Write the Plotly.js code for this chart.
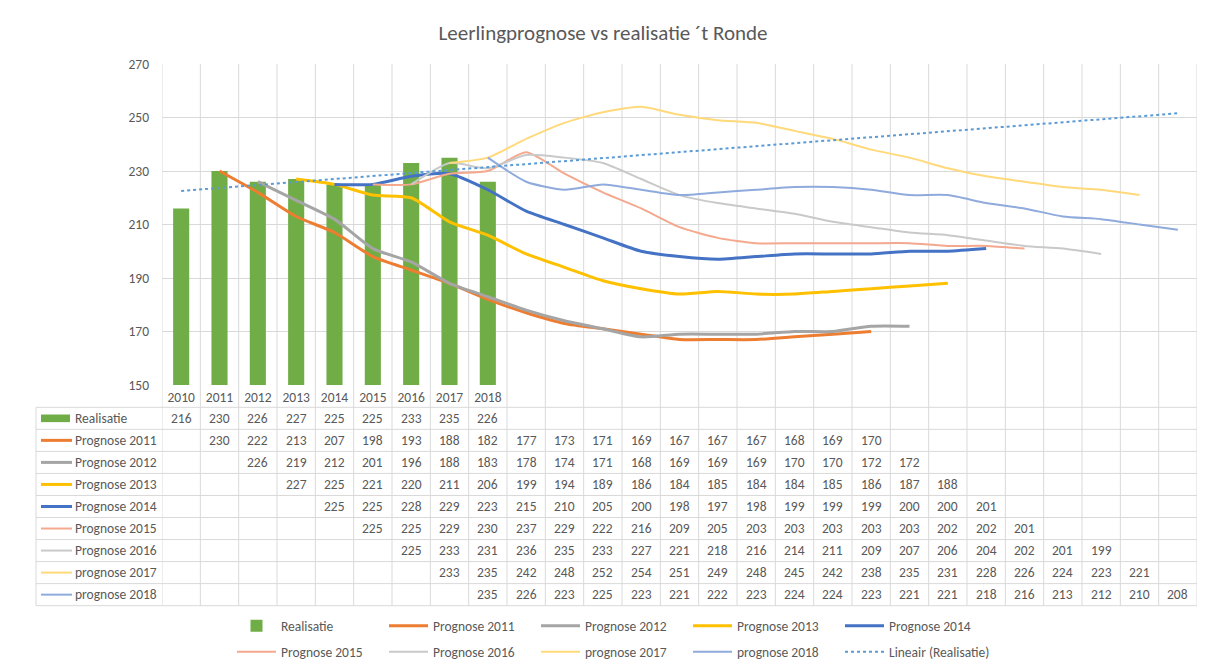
<!DOCTYPE html>
<html><head><meta charset="utf-8">
<script src="https://cdn.plot.ly/plotly-3.0.1.min.js"></script>
<style>html,body{margin:0;padding:0;background:#fff}#chart{width:1206px;height:666px}</style>
</head><body><div id="chart"></div>
<script>
// ---------- data ----------
const N = null;
const years = ['2010','2011','2012','2013','2014','2015','2016','2017','2018'];
const realisatie   = [216,230,226,227,225,225,233,235,226];
const prognose2011 = [N,230,222,213,207,198,193,188,182,177,173,171,169,167,167,167,168,169,170];
const prognose2012 = [N,N,226,219,212,201,196,188,183,178,174,171,168,169,169,169,170,170,172,172];
const prognose2013 = [N,N,N,227,225,221,220,211,206,199,194,189,186,184,185,184,184,185,186,187,188];
const prognose2014 = [N,N,N,N,225,225,228,229,223,215,210,205,200,198,197,198,199,199,199,200,200,201];
const prognose2015 = [N,N,N,N,N,225,225,229,230,237,229,222,216,209,205,203,203,203,203,203,202,202,201];
const prognose2016 = [N,N,N,N,N,N,225,233,231,236,235,233,227,221,218,216,214,211,209,207,206,204,202,201,199];
const prognose2017 = [N,N,N,N,N,N,N,233,235,242,248,252,254,251,249,248,245,242,238,235,231,228,226,224,223,221];
const prognose2018 = [N,N,N,N,N,N,N,N,235,226,223,225,223,221,222,223,224,224,223,221,221,218,216,213,212,210,208];
const barName = 'Realisatie';
const lineNames = ['Prognose 2011','Prognose 2012','Prognose 2013','Prognose 2014','Prognose 2015','Prognose 2016','prognose 2017','prognose 2018'];
const trendName = 'Lineair (Realisatie)';
const lineSeries = [prognose2011,prognose2012,prognose2013,prognose2014,prognose2015,prognose2016,prognose2017,prognose2018];

// ---------- styles ----------
const FONT = 'Carlito, Calibri, Lato, sans-serif';
const TXT = '#595959';
const GRID = '#d9d9d9';
const FS = 13.5;
const barColor = '#70ad47';
const lineColors = ['#ed7d31','#a5a5a5','#ffc000','#4472c4','#f4a88e','#c9c9c9','#ffd97a','#8faadc'];
const lineWidths = [3,3,3,3,2,2,2,2];
const trendColor = '#5b9bd5';

const nCols = Math.max(realisatie.length, ...lineSeries.map(s => s.length));
const idx = n => Array.from({length:n}, (_, i) => i);

// layout geometry (pixels)
const W = 1206, H = 666, mL = 162, mR = 9, mT = 64, mB = 281;
const pw = W - mL - mR, ph = H - mT - mB;
const px2x = px => (px - mL) / pw;           // paper x
const py2y = py => (H - mB - py) / ph;        // paper y
const headerBottom = py2y(407.3);
const rowH = 22.04 / ph;
const nRows = 1 + lineSeries.length;
const tableBottom = headerBottom - nRows * rowH;
const rowCenter = r => headerBottom - (r + 0.5) * rowH;

// ---------- traces ----------
const traces = [];
traces.push({
  type: 'bar', name: barName, x: idx(realisatie.length), y: realisatie,
  marker: {color: barColor}, width: 0.42, legend: 'legend', hoverinfo: 'name+y'
});
lineSeries.forEach((s, i) => {
  traces.push({
    type: 'scatter', mode: 'lines', name: lineNames[i], x: idx(s.length), y: s,
    line: {color: lineColors[i], width: lineWidths[i], shape: 'spline', smoothing: 0.6},
    legend: i < 4 ? 'legend' : 'legend2', connectgaps: false
  });
});
// linear trendline (least squares on Realisatie, as Excel does)
(function(){
  const n = realisatie.length, xs = idx(n);
  const mx = xs.reduce((a,b)=>a+b,0)/n, my = realisatie.reduce((a,b)=>a+b,0)/n;
  let sxy = 0, sxx = 0;
  xs.forEach((x,i) => { sxy += (x-mx)*(realisatie[i]-my); sxx += (x-mx)*(x-mx); });
  const slope = sxy/sxx, icpt = my - slope*mx;
  const tx = idx(nCols);
  traces.push({
    type: 'scatter', mode: 'lines', name: trendName, x: tx, y: tx.map(x => icpt + slope*x),
    line: {color: trendColor, width: 2, dash: 'dot'}, legend: 'legend2'
  });
})();

// ---------- data table (annotations + shapes) ----------
const annotations = [];
const shapes = [];
const tableRows = [{name: barName, values: realisatie, kind: 'bar', color: barColor, width: 0}]
  .concat(lineSeries.map((s, i) => ({name: lineNames[i], values: s, kind: 'line', color: lineColors[i], width: lineWidths[i]})));

tableRows.forEach((row, r) => {
  const yc = rowCenter(r);
  row.values.forEach((v, c) => {
    if (v === null) return;
    annotations.push({xref: 'x', yref: 'paper', x: c, y: yc, text: String(v), showarrow: false,
      xanchor: 'center', yanchor: 'middle', font: {family: FONT, size: FS, color: TXT}});
  });
  annotations.push({xref: 'paper', yref: 'paper', x: px2x(73), y: yc, text: row.name, showarrow: false,
    xanchor: 'left', yanchor: 'middle', font: {family: FONT, size: FS, color: TXT}});
  if (row.kind === 'bar') {
    shapes.push({type: 'rect', xref: 'paper', yref: 'paper', x0: px2x(41), x1: px2x(70),
      y0: yc - 3.8/ph, y1: yc + 3.8/ph, fillcolor: row.color, line: {width: 0}});
  } else {
    shapes.push({type: 'line', xref: 'paper', yref: 'paper', x0: px2x(41), x1: px2x(72),
      y0: yc, y1: yc, line: {color: row.color, width: row.width}});
  }
});
// horizontal table lines
for (let k = 0; k <= nRows; k++) {
  const y = headerBottom - k * rowH;
  shapes.push({type: 'line', xref: 'paper', yref: 'paper', x0: px2x(36), x1: 1, y0: y, y1: y,
    line: {color: GRID, width: 1}, layer: 'below'});
}
// left border of the legend column
shapes.push({type: 'line', xref: 'paper', yref: 'paper', x0: px2x(36), x1: px2x(36), y0: headerBottom, y1: tableBottom,
  line: {color: GRID, width: 1}, layer: 'below'});
// vertical category boundaries through plot and table
for (let c = 0; c <= nCols; c++) {
  shapes.push({type: 'line', xref: 'x', yref: 'paper', x0: c - 0.5, x1: c - 0.5, y0: tableBottom, y1: 1,
    line: {color: GRID, width: 1}, layer: 'below'});
}

const legendBase = {
  orientation: 'h', xref: 'paper', yref: 'paper', xanchor: 'left', yanchor: 'middle',
  x: px2x(232), itemwidth: 39, entrywidth: 98, entrywidthmode: 'pixels', bgcolor: 'rgba(0,0,0,0)',
  font: {family: FONT, size: FS, color: TXT}, traceorder: 'normal'
};

const layout = {
  width: W, height: H,
  margin: {l: mL, r: mR, t: mT, b: mB, autoexpand: false},
  paper_bgcolor: '#fff', plot_bgcolor: '#fff',
  font: {family: FONT, color: TXT, size: FS},
  title: {text: 'Leerlingprognose vs realisatie \u00b4t Ronde', x: 0.5, xref: 'container',
    y: 1 - 33/H, yref: 'container', yanchor: 'middle', font: {family: FONT, size: 21, color: TXT}},
  xaxis: {range: [-0.5, nCols - 0.5], tickmode: 'array', tickvals: idx(years.length), ticktext: years,
    showgrid: false, zeroline: false, showline: false, ticks: '', ticklabelstandoff: 2,
    tickfont: {family: FONT, size: FS, color: TXT}, fixedrange: true},
  yaxis: {range: [150, 270], tick0: 150, dtick: 20, showgrid: true, gridcolor: GRID, gridwidth: 1,
    zeroline: false, showline: false, ticks: '', ticklabelstandoff: 12,
    tickfont: {family: FONT, size: FS, color: TXT}, fixedrange: true},
  barmode: 'overlay',
  showlegend: true,
  legend: Object.assign({}, legendBase, {y: py2y(626)}),
  legend2: Object.assign({}, legendBase, {y: py2y(652)}),
  annotations: annotations,
  shapes: shapes
};

Plotly.newPlot('chart', traces, layout, {displayModeBar: false, staticPlot: true});
</script>
</body></html>
